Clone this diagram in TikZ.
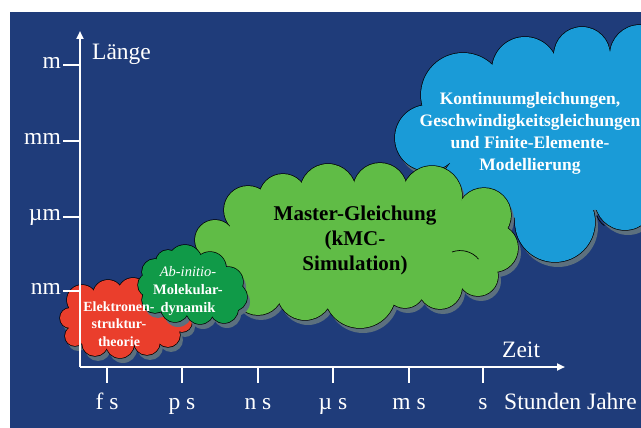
\documentclass[tikz,border=0pt]{standalone}
\usepackage{fontspec}
\setmainfont{Liberation Serif}
\usetikzlibrary{arrows.meta}
\definecolor{bg}{RGB}{31,60,122}
\definecolor{cred}{RGB}{234,62,44}
\definecolor{cdgreen}{RGB}{16,154,72}
\definecolor{clgreen}{RGB}{96,188,70}
\definecolor{cblue}{RGB}{26,155,215}
\definecolor{shadowc}{RGB}{92,112,126}
% #1 bumps (in order round the outline), #2 colour, #3 extra fillers, #4 first bump centre
\newcommand\drawcloud[4]{%
  \begin{scope}[shift={(3,5)}]
    \foreach \px/\py/\rr in {#1} {\fill[shadowc] (\px,\py) circle[radius=\rr pt];}
    \fill[shadowc] (#4) \foreach \px/\py/\rr in {#1} { -- (\px,\py) } -- cycle;
  \end{scope}
  \foreach \px/\py/\rr in {#1} {\draw[black, line width=1.4pt] (\px,\py) circle[radius=\rr pt];}
  \foreach \px/\py/\rr in {#1} {\fill[#2] (\px,\py) circle[radius=\rr pt];}
  \fill[#2] (#4) \foreach \px/\py/\rr in {#1} { -- (\px,\py) } -- cycle;
  \foreach \px/\py/\rr in {#3} {\fill[#2] (\px,\py) circle[radius=\rr pt];}
}
\tikzset{
  axis/.style={white, line width=2.2pt},
  lab/.style={text=white, inner sep=0pt, font=\fontsize{23.5}{28}\selectfont},
  cloudtxt/.style={inner sep=0pt, align=center},
  deco/.style={black, line width=0.7pt}
}
\begin{document}
\begin{tikzpicture}[x=1pt, y=-1pt]
\useasboundingbox (0,0) rectangle (641,428);
\fill[white] (0,0) rectangle (641,428);
\fill[bg] (10,12) rectangle (641,428);

% blue cloud
\drawcloud{428/138/33, 463/95/42, 525/70/33, 582/55/28, 640/55/30, 650/130/70, 625/200/30, 555/222/40, 480/190/40}{cblue}
  {530/130/75, 590/100/40, 480/130/45, 530/170/50, 600/170/40, 620/110/40}{428,138}
\draw[deco] (597,216) arc[start angle=200, end angle=235, radius=20pt];
% light green cloud
\drawcloud{215/240/20, 248/210/24, 283/198/24, 328/192/28, 380/190/27, 432/196/30, 484/215/27, 494/248/24, 478/276/20, 440/287/22, 405/288/20, 360/292/36, 305/292/28, 258/290/25, 228/268/22}{clgreen}
  {360/248/45, 300/250/45, 420/245/45, 460/240/35, 250/255/30}{215,240}
\draw[deco] (452,252) arc[start angle=110, end angle=40, radius=24pt];
% red cloud
\drawcloud{82/300/15, 70/318/10, 75/336/10, 95/343/13, 120/344/14, 147/342/13, 168/335/12, 182/322/10, 158/300/14, 133/293/15, 108/295/15}{cred}
  {120/320/25, 150/320/18, 90/322/15}{82,300}
% dark green cloud
\drawcloud{155/272/13, 168/262/12, 185/262/17, 210/268/16, 228/282/15, 233/297/14, 224/309/14, 200/310/14, 175/308/14, 155/300/13, 150/285/12}{cdgreen}
  {190/287/24, 215/295/15}{155,272}

% cloud texts
\node[cloudtxt, text=white, font=\bfseries\fontsize{17.5}{22}\selectfont] (tblue) at (530,133)
  {Kontinuumgleichungen,\\Geschwindigkeitsgleichungen\\und Finite-Elemente-\\Modellierung};
\node[cloudtxt, text=black, font=\bfseries\fontsize{21}{25}\selectfont] (tmaster) at (355,240)
  {Master-Gleichung\\(kMC-\\Simulation)};
\node[cloudtxt, text=white, font=\bfseries\fontsize{14.5}{18}\selectfont] (tmd) at (188,291)
  {\textmd{\itshape Ab-initio-}\\Molekular-\\dynamik};
\node[cloudtxt, text=white, font=\bfseries\fontsize{14}{17.5}\selectfont] (tel) at (119,324)
  {Elektronen-\\struktur-\\theorie};

% axes
\coordinate (O) at (80,367);
\coordinate (Ytop) at (80,31);
\coordinate (Xend) at (565,367);
\draw[axis, -{Triangle[length=8pt,width=7pt]}] (O) -- (Ytop);
\draw[axis, -{Triangle[length=8pt,width=7pt]}] (O) -- (Xend);
\foreach \yy/\lab in {65/m,141/mm,217/µm,291/nm} {
  \coordinate (ya\yy) at (63,\yy);
  \coordinate (yb\yy) at (80,\yy);
  \draw[axis] (ya\yy) -- (yb\yy);
  \node[lab, anchor=mid east] (yl\yy) at (61,\yy+1) {\lab};
}
\foreach \xx/\lab in {107/f s,182/p s,258/n s,333/µ s,409/m s,483/s} {
  \coordinate (xa\xx) at (\xx,367);
  \coordinate (xb\xx) at (\xx,383);
  \draw[axis] (xa\xx) -- (xb\xx);
  \node[lab, anchor=base] (xl\xx) at (\xx,409) {\lab};
}
\node[lab, anchor=base west] (stunden) at (504,409) {Stunden Jahre};
\node[lab, anchor=base west] (zeit) at (502,357) {Zeit};
\node[lab, anchor=base west] (laenge) at (92,60) {Länge};
\end{tikzpicture}
\end{document}
